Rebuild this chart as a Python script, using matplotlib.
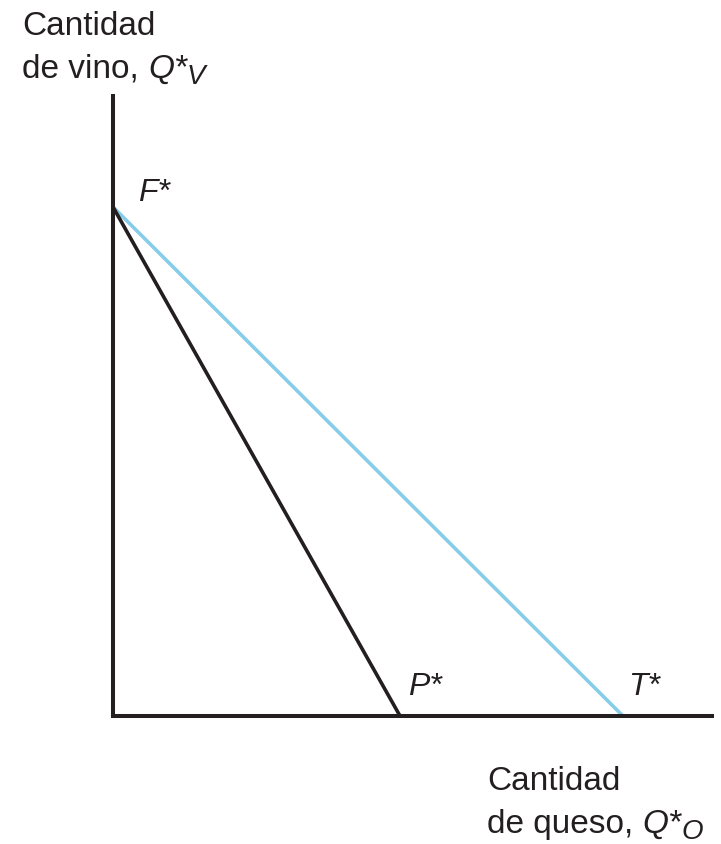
"""Frontera de posibilidades de producción (F*P*) y recta de comercio (F*T*)."""

import matplotlib

matplotlib.use("Agg")

import matplotlib.pyplot as plt  # noqa: E402
from matplotlib.transforms import offset_copy  # noqa: E402

plt.rcParams["font.family"] = ["Liberation Sans", "DejaVu Sans"]

# ---------- Data ----------

# frontier: wine intercept F*, cheese intercept P*
PPF_X = [0.0, 5.64]
PPF_Y = [10.0, 0.0]
# trade line: F* to T*
TRADE_X = [0.0, 10.02]
TRADE_Y = [10.0, 0.0]
POINT_LABELS = ["F*", "P*", "T*"]
POINT_XY = [(0.0, 10.0), (5.64, 0.0), (10.02, 0.0)]

X_MAX = 11.77
Y_MAX = 12.18

INK = "#231f20"
BLUE = "#87cdea"
FS = 24

# ---------- Figure ----------

fig = plt.figure(figsize=(7.21, 8.45), dpi=100)
ax = fig.add_axes([0.1567, 0.1515, 0.9875 - 0.1567, 0.8852 - 0.1515])
ax.set_xlim(0, X_MAX)
ax.set_ylim(0, Y_MAX)
for side in ("top", "right"):
    ax.spines[side].set_visible(False)
for side in ("left", "bottom"):
    ax.spines[side].set_linewidth(2.9)
    ax.spines[side].set_color(INK)
ax.set_xticks([])
ax.set_yticks([])
ax.patch.set_alpha(0)

ax.plot(TRADE_X, TRADE_Y, color=BLUE, lw=2.6, solid_capstyle="butt", clip_on=False)
ax.plot(PPF_X, PPF_Y, color=INK, lw=2.6, solid_capstyle="butt", clip_on=False)

# point labels, offset up/right of each point (in points)
offsets = {"F*": (18, 5), "P*": (6, 16), "T*": (4, 16)}
for lab, (x, y) in zip(POINT_LABELS, POINT_XY):
    dx, dy = offsets[lab]
    ax.annotate(
        lab,
        (x, y),
        xytext=(dx, dy),
        textcoords="offset points",
        fontsize=FS - 1,
        fontstyle="italic",
        color=INK,
        ha="left",
        va="baseline",
    )

renderer = fig.canvas.get_renderer()


def axis_label(x_px, y_px, word, var, sub):
    """Two-line label: 'Cantidad' / 'de <word>, Q*' with a lowered subscript."""
    fig.text(x_px / 721, 1 - y_px / 845, "Cantidad",
             fontsize=FS, color=INK, ha="left", va="baseline")
    t = fig.text(x_px / 721, 1 - (y_px + 43) / 845, f"de {word}, ",
                 fontsize=FS, color=INK, ha="left", va="baseline")
    w = t.get_window_extent(renderer).width
    q = fig.text(x_px / 721, 1 - (y_px + 43) / 845, var,
                 fontsize=FS, color=INK, ha="left", va="baseline",
                 fontstyle="italic",
                 transform=offset_copy(fig.transFigure, fig=fig, x=w, y=0, units="dots"))
    wq = q.get_window_extent(renderer).width
    fig.text(x_px / 721, 1 - (y_px + 43) / 845, sub,
             fontsize=FS - 4, color=INK, ha="left", va="baseline",
             fontstyle="italic",
             transform=offset_copy(fig.transFigure, fig=fig, x=w + wq, y=-6, units="dots"))


axis_label(22, 35, "vino", "Q*", "V")
axis_label(487, 790, "queso", "Q*", "O")

fig.savefig("out.png", dpi=100)
